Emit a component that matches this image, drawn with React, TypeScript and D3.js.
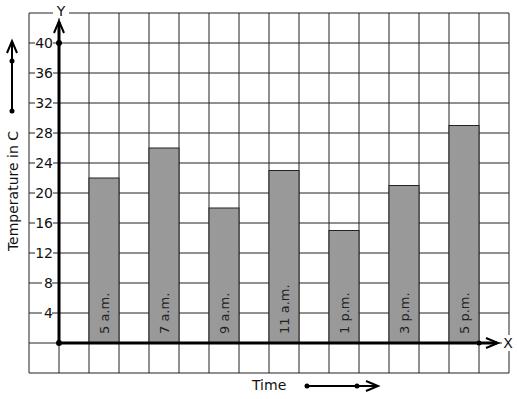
import React from "react";
import * as d3 from "d3";

const categories = ["5 a.m.", "7 a.m.", "9 a.m.", "11 a.m.", "1 p.m.", "3 p.m.", "5 p.m."];
const temperatures = [22, 26, 18, 23, 15, 21, 29];
const yTicks = [4, 8, 12, 16, 20, 24, 28, 32, 36, 40];

const W = 517;
const H = 399;
const FONT = "DejaVu Sans, sans-serif";

export default function App() {
  const x = d3.scaleLinear().domain([0, 16]).range([29, 509]);
  const y = d3.scaleLinear().domain([-4, 44]).range([373, 13]);
  const gridX = d3.range(0, 17);
  const gridY = d3.range(-4, 45, 4);
  const x0 = x(1);
  const y0 = y(0);
  const ink = "#111";

  return (
    <svg width={W} height={H} style={{ position: "absolute", left: 0, top: 0, background: "#fff" }} fontFamily={FONT}>
      <rect x={0} y={0} width={W} height={H} fill="#fff" />
      {/* grid */}
      {gridX.map((g) => (
        <line key={"gx" + g} x1={x(g)} x2={x(g)} y1={y(44)} y2={y(-4)} stroke="#222" strokeWidth={1} />
      ))}
      {gridY.map((g) => (
        <line key={"gy" + g} x1={x(0)} x2={x(16)} y1={y(g)} y2={y(g)} stroke="#222" strokeWidth={1} />
      ))}
      {/* bars */}
      {temperatures.map((v, i) => (
        <rect
          key={"b" + i}
          x={x(2 + 2 * i)}
          y={y(v)}
          width={x(3) - x(2)}
          height={y(0) - y(v)}
          fill="#999999"
          stroke="#222"
          strokeWidth={1}
        />
      ))}
      {categories.map((c, i) => {
        const cx = (x(2 + 2 * i) + x(3 + 2 * i)) / 2 + 4.5;
        const cy = y0 - 9;
        return (
          <text key={"c" + i} x={cx} y={cy} transform={`rotate(-90 ${cx} ${cy})`} fontSize={13} fill="#222">
            {c}
          </text>
        );
      })}
      {/* y tick labels */}
      {yTicks.map((t) => (
        <g key={"t" + t}>
          <rect x={t < 10 ? 42 : 35} y={y(t) - 7} width={t < 10 ? 10 : 18} height={14} fill="#fff" />
          <text x={53} y={y(t) + 5} fontSize={14} textAnchor="end" fill={ink}>
            {t}
          </text>
        </g>
      ))}
      {/* y axis */}
      <line x1={x0} x2={x0} y1={y0} y2={22} stroke="#000" strokeWidth={3} />
      <path d={`M${x0 - 5},${33} L${x0},${21} L${x0 + 5},${33}`} fill="none" stroke="#000" strokeWidth={2} />
      <rect x={53} y={4} width={16} height={14} fill="#fff" />
      <text x={x0 + 2} y={16} fontSize={14} textAnchor="middle" fill={ink}>Y</text>
      <circle cx={x0} cy={y(40)} r={3} fill="#000" />
      <circle cx={x0} cy={y0} r={3} fill="#000" />
      {/* x axis */}
      <line x1={x0} x2={497} y1={y0} y2={y0} stroke="#000" strokeWidth={3} />
      <path d={`M${486},${y0 - 5} L${498},${y0} L${486},${y0 + 5}`} fill="none" stroke="#000" strokeWidth={2} />
      <circle cx={x(15)} cy={y0} r={2.5} fill="#000" />
      <rect x={502} y={y0 - 8} width={14} height={16} fill="#fff" />
      <text x={508} y={y0 + 5} fontSize={14} textAnchor="middle" fill={ink}>X</text>
      {/* y title */}
      <text
        x={18}
        y={191}
        transform="rotate(-90 18 191)"
        fontSize={14}
        textAnchor="middle"
        fill={ink}
      >
        Temperature in C
      </text>
      <line x1={12} x2={12} y1={111} y2={43} stroke="#000" strokeWidth={2} />
      <path d="M7,53 L12,41 L17,53" fill="none" stroke="#000" strokeWidth={2} />
      <circle cx={12} cy={61} r={2.5} fill="#000" />
      <circle cx={12} cy={111} r={2.5} fill="#000" />
      {/* x title */}
      <text x={252} y={390} fontSize={14} fill={ink}>Time</text>
      <line x1={307} x2={376} y1={386} y2={386} stroke="#000" strokeWidth={2} />
      <path d="M366,381 L378,386 L366,391" fill="none" stroke="#000" strokeWidth={2} />
      <circle cx={307} cy={386} r={2.5} fill="#000" />
      <circle cx={357} cy={386} r={2.5} fill="#000" />
    </svg>
  );
}
